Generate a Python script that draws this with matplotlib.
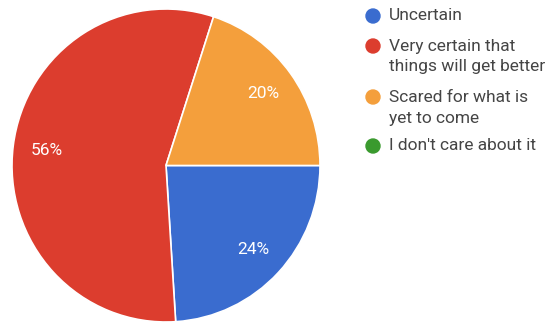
import matplotlib.pyplot as plt
from matplotlib.patches import Ellipse

plt.rcParams['font.family'] = ['Roboto', 'DejaVu Sans']

labels = ['Uncertain', 'Very certain that\nthings will get better',
          'Scared for what is\nyet to come', "I don't care about it"]
shares = [24, 56, 20, 0]
colors = ['#3A6CCF', '#DC3D2E', '#F49F3C', '#3A9A2E']

W, H = 547, 324
fig = plt.figure(figsize=(W / 100, H / 100), dpi=100)

# pie centred at (166, 165.5) px, radii 154 x 156.5 px
cx, cy, rx, ry = 166, 165.5, 154, 156.5
ax = fig.add_axes([(cx - rx) / W, (H - cy - ry) / H, 2 * rx / W, 2 * ry / H])

drawn = [(s, c) for s, c in zip(shares, colors) if s > 0]
wedges, texts, autotexts = ax.pie(
    [s for s, _ in drawn], colors=[c for _, c in drawn],
    startangle=0, counterclock=False, radius=1,
    autopct='%1.0f%%', pctdistance=0.78,
    wedgeprops=dict(edgecolor='white', linewidth=1.2),
    textprops=dict(color='white', fontsize=12.5))
ax.set_xlim(-1, 1)
ax.set_ylim(-1, 1)
ax.set_aspect('auto')
ax.axis('off')

# legend: dot + (possibly two-line) label
row_y = [16, 46, 97, 146]
for lab, c, y in zip(labels, colors, row_y):
    fig.add_artist(Ellipse((373 / W, 1 - y / H), 14 / W, 14 / H, color=c,
                           transform=fig.transFigure))
    for i, line in enumerate(lab.split('\n')):
        fig.text(389 / W, 1 - (y + i * 21) / H, line, color='#454545',
                 fontsize=12.5, va='center', ha='left')

fig.savefig('out.png', dpi=100)
